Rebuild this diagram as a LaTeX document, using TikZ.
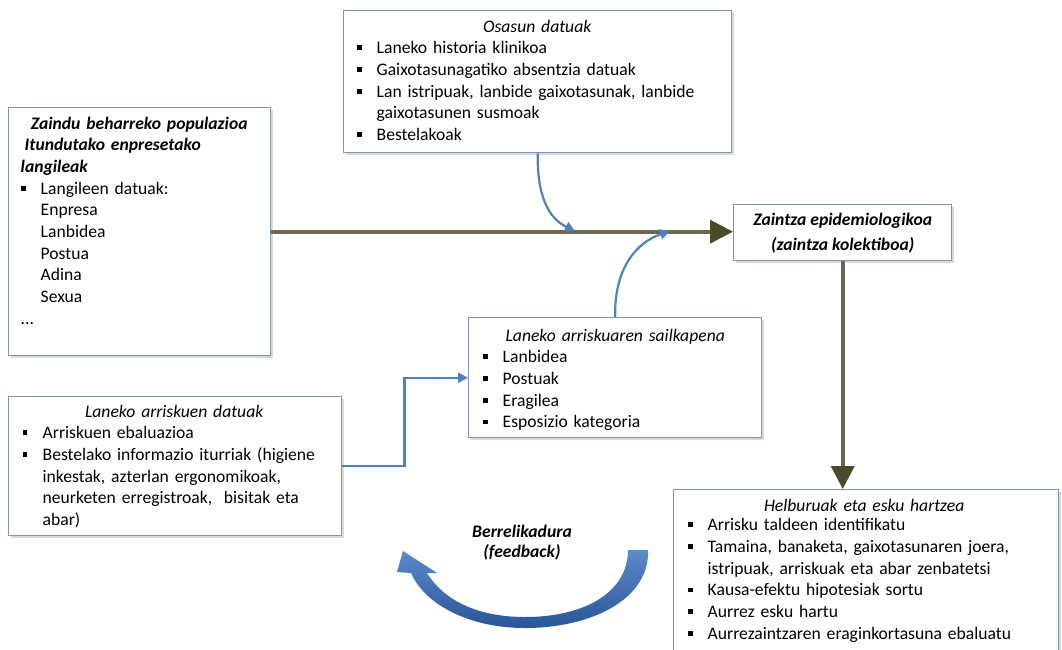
\documentclass[tikz,border=0pt]{standalone}
\usepackage{fontspec}
\setmainfont{Carlito}
\usetikzlibrary{arrows.meta,positioning,shadows}
\definecolor{boxline}{HTML}{7E95B5}
\definecolor{flowblue}{HTML}{4F81BD}
\definecolor{olivegrey}{HTML}{6A6650}
\definecolor{olivedark}{HTML}{4A4A2C}
\definecolor{fbtop}{HTML}{5B8BCB}
\definecolor{fbbot}{HTML}{2A5597}
\newcommand{\bul}{\makebox[20pt][l]{\rule[3.5pt]{4.8pt}{4.8pt}}}
\newcommand{\ttl}[1]{\makebox[\linewidth][c]{\itshape #1}}
\tikzset{
  panel/.style={rectangle, draw=boxline, line width=1.4pt, fill=white,
    drop shadow={shadow xshift=2pt, shadow yshift=-2pt, opacity=0.3},
    anchor=north west, inner sep=0pt},
  txt/.style={inner sep=0pt, anchor=base west, align=left,
    font=\fontsize{17.6}{21.7}\selectfont},
  mainarr/.style={line width=3.6pt, draw=olivegrey,
    -{Triangle[length=23pt,width=23pt,color=olivedark]}},
  bluearr/.style={line width=2.2pt, draw=flowblue, -{Triangle[length=10pt,width=10pt]}},
}

\begin{document}
\begin{tikzpicture}[x=1pt,y=-1pt]
  \useasboundingbox (0,0) rectangle (1062,649);
  \clip (0,0) rectangle (1062,649);
  % boxes
  \node[panel, minimum width=388pt, minimum height=142pt] (health) at (343,10) {};
  \node[panel, minimum width=262pt, minimum height=248pt] (pop) at (8,107) {};
  \node[panel, minimum width=218pt, minimum height=56pt, align=center,
    font=\fontsize{17.6}{25}\selectfont\bfseries\itshape] (surv) at (733,204)
    {Zaintza epidemiologikoa\\(zaintza kolektiboa)};
  \node[panel, minimum width=293pt, minimum height=120pt] (class) at (468,317) {};
  \node[panel, minimum width=333pt, minimum height=139pt] (riskd) at (8,396) {};
  \node[panel, minimum width=385pt, minimum height=180pt] (goal) at (673,489) {};
  % box texts
  \node[txt, text width=361pt] (healtht) at (356.5,32) {\ttl{Osasun datuak}\\
    \bul Laneko historia klinikoa\\
    \bul Gaixotasunagatiko absentzia datuak\\
    \bul Lan istripuak, lanbide gaixotasunak, lanbide\\
    \hspace*{20pt}gaixotasunen susmoak\\
    \bul Bestelakoak};
  \node[txt, text width=237pt] (popt) at (20.5,129)
    {\makebox[\linewidth][c]{\bfseries\itshape Zaindu beharreko populazioa}\\
    {\bfseries\itshape\hspace*{4pt}Itundutako enpresetako}\\
    {\bfseries\itshape langileak}\\
    \bul Langileen datuak:\\
    \hspace*{20pt}Enpresa\\
    \hspace*{20pt}Lanbidea\\
    \hspace*{20pt}Postua\\
    \hspace*{20pt}Adina\\
    \hspace*{20pt}Sexua\\
    ...};
  \node[txt, text width=265pt] (classt) at (482.5,341) {\ttl{Laneko arriskuaren sailkapena}\\
    \bul Lanbidea\\
    \bul Postuak\\
    \bul Eragilea\\
    \bul Esposizio kategoria};
  \node[txt, text width=303pt] (riskdt) at (22.5,417) {\ttl{Laneko arriskuen datuak}\\
    \bul Arriskuen ebaluazioa\\
    \bul Bestelako informazio iturriak (higiene\\
    \hspace*{20pt}inkestak, azterlan ergonomikoak,\\
    \hspace*{20pt}neurketen erregistroak,\ \ bisitak eta\\
    \hspace*{20pt}abar)};
  \node[txt, text width=353pt] (goalt) at (687.5,511) {\ttl{Helburuak eta esku hartzea}\\[-2pt]
    \bul Arrisku taldeen identifikatu\\
    \bul Tamaina, banaketa, gaixotasunaren joera,\\
    \hspace*{20pt}istripuak, arriskuak eta abar zenbatetsi\\
    \bul Kausa-efektu hipotesiak sortu\\
    \bul Aurrez esku hartu\\
    \bul Aurrezaintzaren eraginkortasuna ebaluatu};
  % flows
  \draw[mainarr] (pop.east) -- (pop.east -| surv.west);
  \draw[mainarr] (surv.south) -- (surv.south |- goal.north);
  \coordinate (m1) at (575,231);
  \coordinate (m2) at (670,231);
  \draw[bluearr] (health.south) .. controls (537,195) and (548,218) .. (m1);
  \draw[bluearr] (class.north) .. controls (614,270) and (635,243) .. (m2);
  \draw[bluearr] (riskd.east) -- ++(62,0) |- (class.west);
  % feedback loop
  \shade[top color=fbtop, bottom color=fbbot] (648,550)
    .. controls (650,600) and (590,628) .. (525,628)
    .. controls (470,628) and (425,605) .. (411,573)
    -- (397,572) -- (403,551) -- (437,573) -- (427,573)
    .. controls (445,602) and (480,617) .. (525,617)
    .. controls (585,617) and (628,592) .. (628,550) -- cycle;
  \node[align=center, font=\fontsize{17.6}{20}\selectfont\bfseries\itshape] (fb) at (522,543)
    {Berrelikadura\\(feedback)};
\end{tikzpicture}
\end{document}
